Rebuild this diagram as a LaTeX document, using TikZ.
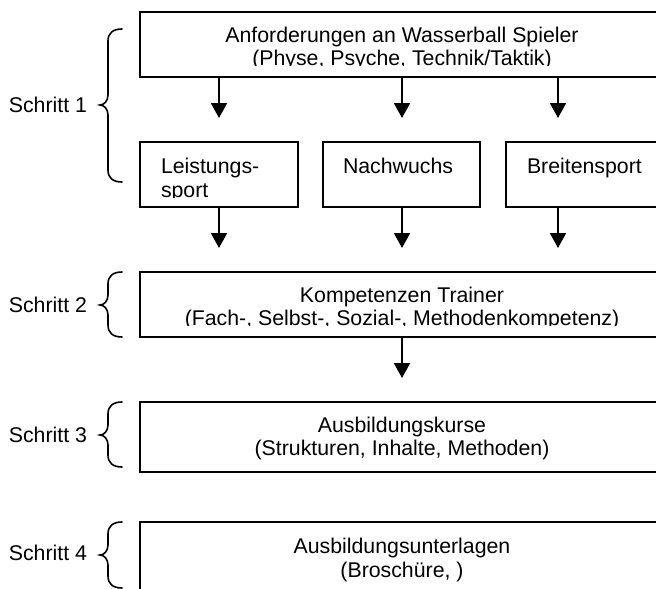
\documentclass[tikz,border=0pt]{standalone}
\usepackage{fontspec}
\setmainfont{Liberation Sans}
\usetikzlibrary{arrows.meta}
\tikzset{
  box/.style={draw=black, line width=2pt, anchor=north west, inner sep=0pt, outer sep=0pt},
  txt/.style={anchor=base, inner sep=0pt, outer sep=0pt, font=\fontsize{21.3}{23.5}\selectfont},
  ltxt/.style={txt, anchor=base west},
  lab/.style={anchor=east, inner sep=0pt, outer sep=0pt, font=\fontsize{21.3}{23.5}\selectfont},
  arr/.style={line width=2pt, -{Triangle[width=16pt,length=15pt]}, shorten >=24pt},
  bracestyle/.style={line width=1.6pt, line cap=round},
}
\newcommand\wbrace[3]{%
  \draw[bracestyle] (122,#1) .. controls (113,#1) and (108,{#1+4}) .. (108,{#1+12})
    -- (108,{#2-10}) .. controls (108,{#2-4}) and (104,#2) .. (100,#2)
    .. controls (104,#2) and (108,{#2+4}) .. (108,{#2+10})
    -- (108,{#3-12}) .. controls (108,{#3-4}) and (113,#3) .. (122,#3);}
\begin{document}
\begin{tikzpicture}[x=1pt,y=-1pt]
\path[fill=white, use as bounding box] (0,0) rectangle (656,589);

% boxes
\node[box, minimum width=524pt, minimum height=65pt] (req) at (140,12) {};
\node[box, minimum width=158pt, minimum height=65pt] (b1) at (140,142) {};
\node[box, minimum width=157pt, minimum height=65pt] (b2) at (323,142) {};
\node[box, minimum width=157pt, minimum height=65pt] (b3) at (506,142) {};
\node[box, minimum width=524pt, minimum height=65pt] (komp) at (140,272) {};
\node[box, minimum width=524pt, minimum height=70pt] (kurse) at (140,402) {};
\node[box, minimum width=524pt, minimum height=80pt] (unter) at (140,522) {};

% box texts
\begin{scope}
  \clip (req.north west) rectangle ([yshift=12pt]req.south east);
  \node[txt] (req1) at (402,42) {Anforderungen an Wasserball Spieler};
  \node[txt] (req2) at (402,65.5) {(Physe, Psyche, Technik/Taktik)};
\end{scope}
\begin{scope}
  \clip (b1.north west) rectangle ([yshift=9.5pt]b1.south east);
  \node[ltxt] (b1a) at (161,173) {Leistungs-};
  \node[ltxt] (b1b) at (161,197.5) {sport};
\end{scope}
\node[ltxt] (b2a) at (343,173) {Nachwuchs};
\node[ltxt] (b3a) at (527,173) {Breitensport};
\begin{scope}
  \clip (komp.north west) rectangle ([yshift=12pt]komp.south east);
  \node[txt] (komp1) at (402,302) {Kompetenzen Trainer};
  \node[txt] (komp2) at (402,325.5) {(Fach-, Selbst-, Sozial-, Methodenkompetenz)};
\end{scope}
\node[txt] (kurse1) at (402,432) {Ausbildungskurse};
\node[txt] (kurse2) at (402,455.5) {(Strukturen, Inhalte, Methoden)};
\node[txt] (unter1) at (402,553) {Ausbildungsunterlagen};
\node[txt] (unter2) at (402,577) {(Broschüre, )};

% arrows
\coordinate (t1) at (219,142);
\coordinate (t2) at (402,142);
\coordinate (t3) at (558,142);
\coordinate (k1) at (219,272);
\coordinate (k2) at (402,272);
\coordinate (k3) at (558,272);
\draw[arr] (req.south -| t1) -- (t1);
\draw[arr] (req.south -| t2) -- (t2);
\draw[arr] (req.south -| t3) -- (t3);
\draw[arr] (b1.south -| k1) -- (k1);
\draw[arr] (b2.south -| k2) -- (k2);
\draw[arr] (b3.south -| k3) -- (k3);
\draw[arr] (komp.south -| kurse.north) -- (kurse.north);

% braces and step labels
\wbrace{29}{105}{182}
\wbrace{272}{305}{337}
\wbrace{402}{435}{467}
\wbrace{522}{555}{588}
\node[lab] (s1) at (87,105) {Schritt 1};
\node[lab] (s2) at (87,305) {Schritt 2};
\node[lab] (s3) at (87,435) {Schritt 3};
\node[lab] (s4) at (87,553) {Schritt 4};
\end{tikzpicture}
\end{document}
